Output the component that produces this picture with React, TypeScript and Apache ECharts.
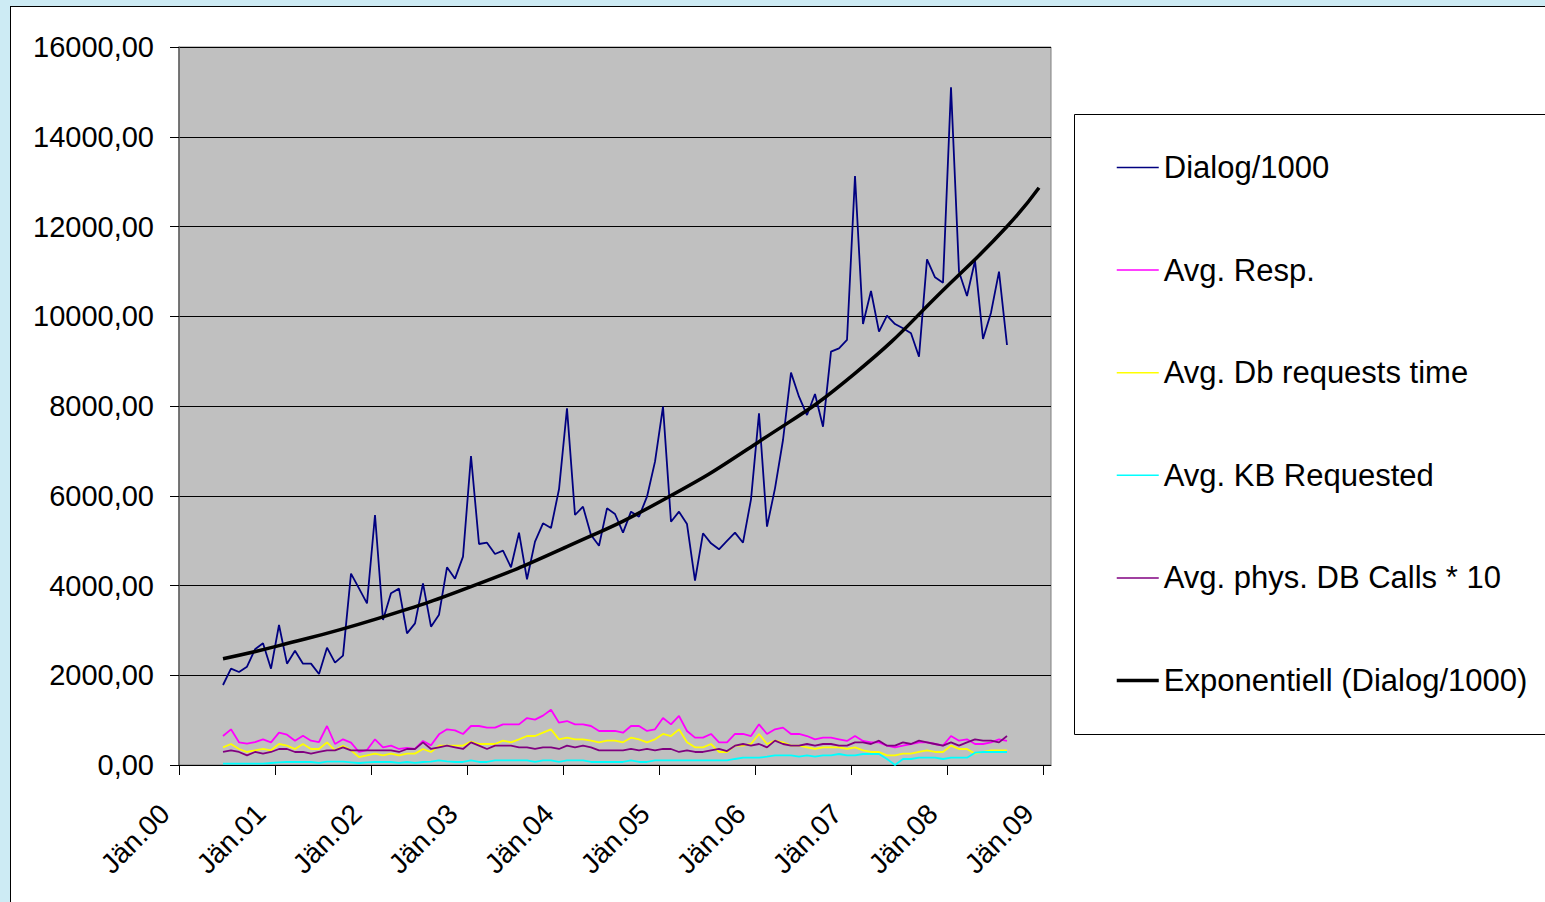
import React, { useEffect, useRef } from 'react';
import * as echarts from 'echarts';

// months counted from Jan 2000; first data point = Jun 2000
const startMonth = 5;
const yearTicks = [0, 12, 24, 36, 48, 60, 72, 84, 96, 108];
const yearLabels = ['Jän.00', 'Jän.01', 'Jän.02', 'Jän.03', 'Jän.04', 'Jän.05', 'Jän.06', 'Jän.07', 'Jän.08', 'Jän.09'];

const seriesNames = [
  'Dialog/1000',
  'Avg. Resp.',
  'Avg. Db requests time',
  'Avg. KB Requested',
  'Avg. phys. DB Calls * 10',
  'Exponentiell (Dialog/1000)',
];

const dialog = [
  1783, 2146, 2072, 2191, 2578, 2712, 2146,
  3120, 2258, 2547, 2258, 2258, 2028, 2614, 2280, 2436, 4264, 3937, 3603,
  5571, 3231, 3826, 3930, 2934, 3157, 4048, 3083, 3350, 4405, 4152, 4643,
  6886, 4925, 4954, 4702, 4776, 4405, 5177, 4138, 4977, 5386, 5281, 6144,
  7948, 5571, 5757, 5125, 4887, 5720, 5593, 5177, 5645, 5534, 5979, 6760,
  7985, 5422, 5645, 5370, 4108, 5163, 4940, 4807, 4992, 5177, 4954, 5920,
  7837, 5311, 6165, 7242, 8743, 8208, 7799, 8267, 7539, 9210, 9285, 9471,
  13125, 9827, 10563, 9656, 10012, 9827, 9731, 9620, 9099, 11269, 10868, 10748,
  15100, 10993, 10451, 11238, 9493, 10080, 10993, 9359,
];

const avgResp = [
  646, 795, 505, 475, 512, 572, 505,
  720, 676, 542, 653, 542, 512, 869, 468, 572, 497, 290, 334,
  572, 394, 431, 357, 379, 357, 535, 438, 683, 795, 773, 691,
  869, 869, 832, 832, 906, 906, 906, 1047, 1010, 1100, 1233, 943,
  980, 906, 906, 869, 758, 758, 758, 720, 869, 869, 758, 795,
  1047, 906, 1092, 758, 609, 609, 691, 505, 505, 691, 691, 646,
  906, 691, 795, 832, 691, 691, 646, 572, 609, 609, 572, 535,
  646, 535, 505, 505, 431, 394, 431, 468, 505, 505, 468, 431,
  646, 542, 572, 468, 468, 505, 572, 535,
];

const avgDb = [
  394, 468, 357, 290, 327, 357, 327,
  468, 431, 357, 468, 357, 357, 505, 327, 431, 327, 178, 215,
  253, 215, 253, 215, 253, 253, 357, 290, 431, 431, 431, 431,
  520, 468, 468, 468, 542, 505, 572, 646, 646, 720, 795, 572,
  609, 572, 572, 542, 505, 542, 542, 505, 609, 572, 505, 572,
  691, 646, 795, 505, 394, 394, 468, 290, 290, 431, 431, 468,
  691, 468, 542, 505, 431, 431, 394, 357, 394, 394, 394, 357,
  394, 327, 290, 290, 215, 215, 253, 253, 290, 327, 290, 290,
  431, 357, 357, 253, 290, 327, 327, 327,
];

const avgKb = [
  30, 30, 30, 30, 30, 30, 45,
  60, 67, 67, 67, 67, 45, 74, 74, 74, 60, 45, 60,
  67, 67, 67, 45, 67, 45, 67, 74, 104, 82, 67, 67,
  104, 67, 67, 104, 104, 104, 104, 104, 67, 104, 104, 67,
  104, 104, 104, 67, 67, 67, 67, 67, 104, 67, 67, 104,
  104, 104, 104, 104, 104, 104, 104, 104, 104, 134, 163, 163,
  163, 186, 215, 215, 215, 186, 215, 186, 215, 215, 245, 215,
  215, 245, 245, 245, 134, 0, 134, 134, 163, 163, 163, 134,
  163, 163, 163, 275, 290, 290, 290, 290,
];

const physDb = [
  290, 327, 290, 215, 290, 253, 290,
  357, 357, 290, 290, 253, 290, 327, 327, 394, 327, 327, 327,
  327, 327, 327, 290, 357, 357, 505, 357, 394, 431, 394, 357,
  505, 431, 357, 431, 431, 431, 394, 394, 357, 394, 394, 357,
  431, 394, 431, 394, 327, 327, 327, 327, 357, 327, 357, 327,
  357, 357, 290, 327, 290, 290, 327, 357, 310, 431, 468, 431,
  468, 394, 542, 468, 431, 431, 468, 431, 468, 468, 431, 431,
  505, 505, 468, 542, 431, 431, 505, 468, 542, 505, 468, 431,
  505, 431, 505, 572, 542, 542, 505, 646,
];

// exponential trend line at selected months
const trendMonths = [5, 12, 24, 36, 48, 60, 72, 84, 96, 103, 107];
const trendValues = [2369, 2659, 3246, 3974, 4865, 5905, 7205, 8728, 10750, 12000, 12865];

const colors = ['#000080', '#FF00FF', '#FFFF00', '#00FFFF', '#800080', '#000000'];

const FONT = '"Liberation Sans", Arial, sans-serif';

const toPoints = (vals: number[]) => vals.map((v, i) => [startMonth + i + 0.5, v]);

export default function App() {
  const ref = useRef<HTMLDivElement>(null);

  useEffect(() => {
    if (!ref.current) return;
    const chart = echarts.init(ref.current, undefined, { renderer: 'svg' });
    const lineSeries = (name: string, data: number[][], color: string, width: number, smooth = false) => ({
      name,
      type: 'line',
      data,
      smooth,
      symbol: 'none',
      showSymbol: false,
      lineStyle: { color, width },
      itemStyle: { color },
      emphasis: { disabled: true },
    });
    chart.setOption({
      animation: false,
      backgroundColor: '#ffffff',
      textStyle: { fontFamily: FONT },
      graphic: [
        { type: 'rect', shape: { x: 0, y: 0, width: 10, height: 902 }, style: { fill: '#CDEBF4' }, silent: true },
        { type: 'rect', shape: { x: 0, y: 0, width: 1545, height: 6 }, style: { fill: '#CDEBF4' }, silent: true },
        { type: 'line', shape: { x1: 10.5, y1: 6, x2: 10.5, y2: 902 }, style: { stroke: '#000', lineWidth: 1 }, silent: true },
        { type: 'line', shape: { x1: 10, y1: 6.5, x2: 1545, y2: 6.5 }, style: { stroke: '#000', lineWidth: 1 }, silent: true },
        {
          type: 'rect',
          shape: { x: 1074.5, y: 114.5, width: 520, height: 620 },
          style: { fill: '#ffffff', stroke: '#000', lineWidth: 1 },
          z: -10,
          silent: true,
        },
      ],
      grid: {
        left: 179,
        top: 47,
        width: 872,
        height: 718,
        show: true,
        backgroundColor: '#C0C0C0',
        borderColor: '#808080',
        borderWidth: 1,
        containLabel: false,
      },
      legend: {
        orient: 'vertical',
        left: 1115,
        top: 152,
        padding: 0,
        itemWidth: 42,
        itemHeight: 14,
        itemGap: 71.6,
        data: seriesNames.map((n, i) => ({
          name: n,
          lineStyle: { width: i === 5 ? 3.5 : 1.5 },
        })),
        itemStyle: { opacity: 0 },
        textStyle: { fontSize: 31, lineHeight: 31, color: '#000', fontFamily: FONT },
        selectedMode: false,
      },
      xAxis: {
        type: 'value',
        min: 0,
        max: 109,
        interval: 12,
        axisLine: { show: true, onZero: false, lineStyle: { color: '#000', width: 1 } },
        axisTick: { show: true, inside: false, length: 10, customValues: yearTicks, lineStyle: { color: '#000' } },
        splitLine: { show: false },
        axisLabel: {
          customValues: yearTicks,
          rotate: 45,
          margin: 30,
          padding: [0, 20, 0, 0],
          fontSize: 28,
          color: '#000',
          fontFamily: FONT,
          formatter: (v: number) => yearLabels[Math.round(v / 12)] ?? '',
        },
      },
      yAxis: {
        type: 'value',
        min: 0,
        max: 16000,
        interval: 2000,
        axisLine: { show: true, lineStyle: { color: '#606060', width: 1.5 } },
        axisTick: { show: true, inside: false, length: 9, lineStyle: { color: '#000' } },
        splitLine: { show: true, lineStyle: { color: '#000', width: 1 } },
        axisLabel: {
          margin: 25,
          fontSize: 29,
          color: '#000',
          fontFamily: FONT,
          formatter: (v: number) => v.toFixed(2).replace('.', ','),
        },
      },
      series: [
        lineSeries(seriesNames[0], toPoints(dialog), colors[0], 1.8),
        lineSeries(seriesNames[1], toPoints(avgResp), colors[1], 1.8),
        lineSeries(seriesNames[2], toPoints(avgDb), colors[2], 1.8),
        lineSeries(seriesNames[3], toPoints(avgKb), colors[3], 1.8),
        lineSeries(seriesNames[4], toPoints(physDb), colors[4], 1.8),
        lineSeries(
          seriesNames[5],
          trendMonths.map((m, i) => [m + 0.5, trendValues[i]]),
          colors[5],
          3.5,
          true
        ),
      ],
    });
    return () => chart.dispose();
  }, []);

  return (
    <div style={{ position: 'fixed', left: 0, top: 0, width: 1545, height: 902, background: '#CDEBF4' }}>
      <div ref={ref} style={{ width: 1545, height: 902 }} />
    </div>
  );
}
